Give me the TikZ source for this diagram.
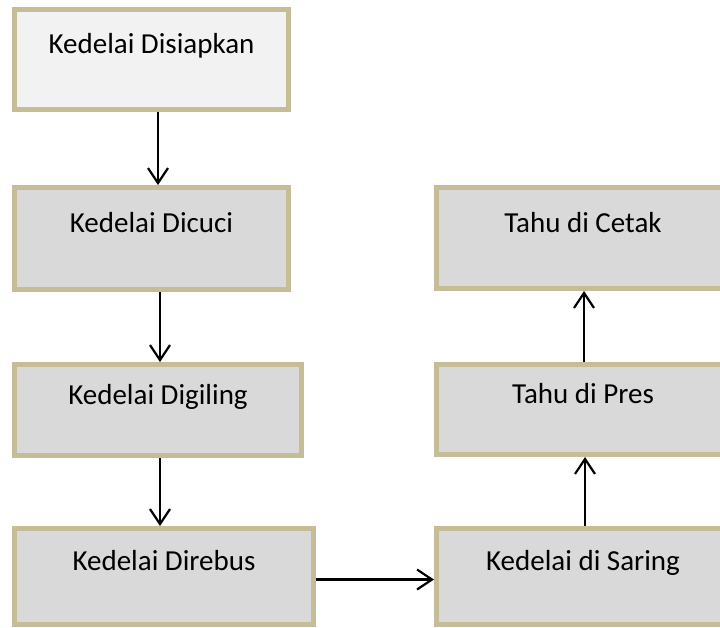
\documentclass[tikz,border=0pt]{standalone}
\usepackage{fontspec}
\setmainfont{Carlito}
\usetikzlibrary{arrows.meta}
\definecolor{boxedge}{HTML}{C4BD97}
\definecolor{boxfill}{HTML}{D9D9D9}
\definecolor{firstfill}{HTML}{F2F2F2}

\begin{document}
\begin{tikzpicture}[x=1pt,y=-1pt,
    stepbox/.style={rectangle,draw=boxedge,fill=boxfill,line width=5pt,
        inner sep=0pt,text height=20pt,text depth=32pt,
        font=\fontsize{29}{34}\selectfont},
    flow/.style={line width=2.2pt,-{Straight Barb[length=15pt,width=20pt]}}]
    \useasboundingbox (0,0) rectangle (720,627);
    \clip (0,0) rectangle (720,627);

    % Left column
    \node (siap) at (151.5,59.5) [stepbox,fill=firstfill,minimum width=274pt,minimum height=100pt] {Kedelai Disiapkan};
    \node (cuci) at (151.5,238.5) [stepbox,minimum width=274pt,minimum height=102pt] {Kedelai Dicuci};
    \node (giling) at (158,410) [stepbox,minimum width=287pt,minimum height=91pt] {Kedelai Digiling};
    \node (rebus) at (164,576.5) [stepbox,minimum width=299pt,minimum height=96pt] {Kedelai Direbus};

    % Right column
    \node (saring) at (583,576.5) [stepbox,minimum width=293pt,minimum height=96pt] {Kedelai di Saring};
    \node (pres) at (583,409.5) [stepbox,minimum width=293pt,minimum height=90pt] {Tahu di Pres};
    \node (cetak) at (583,238) [stepbox,minimum width=293pt,minimum height=101pt] {Tahu di Cetak};

    % Arrows
    \draw [flow] (siap.south -| giling) to (cuci.north -| giling);
    \draw [flow] ([xshift=2pt]cuci.south -| giling) to ([xshift=2pt]giling.north);
    \draw [flow] ([xshift=2pt]giling.south) to ([xshift=-4pt]rebus.north);
    \draw [flow] ([yshift=-3pt]rebus.east) to ([yshift=-3pt]saring.west);
    \draw [flow] ([xshift=2pt]saring.north) to ([xshift=2pt]pres.south);
    \draw [flow] ([xshift=1pt]pres.north) to ([xshift=1pt]cetak.south);
\end{tikzpicture}
\end{document}
